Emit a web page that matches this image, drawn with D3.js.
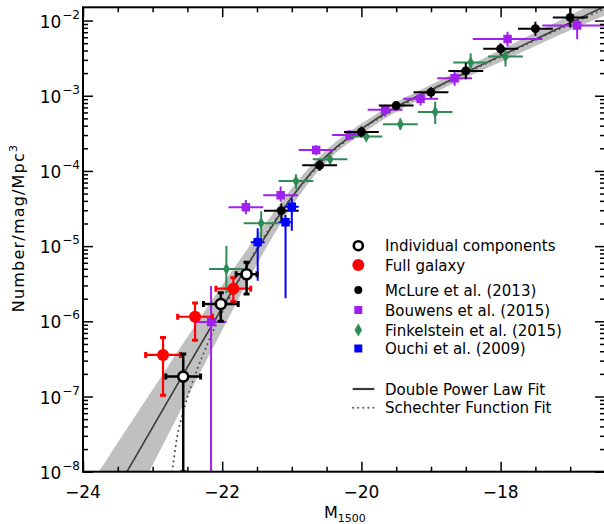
<!DOCTYPE html>
<html>
<head>
<meta charset="utf-8">
<script src="https://cdn.jsdelivr.net/npm/d3@7"></script>
<style>
body { margin: 0; background: #fff; }
svg { display: block; }
text { font-family: "DejaVu Sans", sans-serif; fill: #000; }
</style>
</head>
<body>
<svg id="chart" width="604" height="524"></svg>
<script>
// fit curves, log10(Number/mag/Mpc^3)
const dplM = [-24, -23.5, -23, -22.5, -22, -21.5, -21, -20.5, -20, -19.5, -19, -18.5, -18, -17.5, -17, -16.5];
const dplLog = [-9.01, -8.21, -7.41, -6.61, -5.82, -5.05, -4.35, -3.80, -3.44, -3.15, -2.92, -2.69, -2.47, -2.25, -2.03, -1.81];
const bandHiLog = [-8.33, -7.61, -6.91, -6.21, -5.52, -4.86, -4.23, -3.72, -3.37, -3.085, -2.855, -2.62, -2.39, -2.16, -1.93, -1.69];
const bandLoLog = [-9.70, -8.81, -7.91, -7.01, -6.12, -5.24, -4.47, -3.88, -3.51, -3.215, -2.985, -2.76, -2.55, -2.34, -2.13, -1.93];
const schM = [-22.78, -22.72, -22.65, -22.55, -22.45, -22.3, -22.15, -22.0, -21.75, -21.5, -21.0, -20.5, -20.0, -19.5, -19.0, -18.5, -18.0, -17.5, -17.0, -16.5];
const schLog = [-8.4, -8.0, -7.55, -7.17, -6.87, -6.50, -6.17, -5.88, -5.44, -5.03, -4.35, -3.82, -3.45, -3.17, -2.93, -2.70, -2.48, -2.26, -2.05, -1.84];

// data points: M1500, phi, half-width in M, lower and upper phi
const bouwensM = [-22.16, -21.66, -21.16, -20.65, -20.17, -19.66, -19.15, -18.66, -17.90, -16.90];
const bouwensPhi = [9.8e-7, 3.29e-5, 4.75e-5, 1.9e-4, 3.0e-4, 6.5e-4, 9.1e-4, 1.71e-3, 5.7e-3, 8.6e-3];
const bouwensDM = [0.22, 0.25, 0.25, 0.25, 0.25, 0.25, 0.25, 0.25, 0.5, 0.5];
const bouwensLo = [1e-9, 2.65e-5, 3.9e-5, 1.62e-4, 2.55e-4, 5.3e-4, 7.4e-4, 1.36e-3, 4.5e-3, 5.65e-3];
const bouwensHi = [2.95e-6, 4.1e-5, 6.2e-5, 2.2e-4, 3.5e-4, 7.6e-4, 1.1e-3, 2.15e-3, 7.1e-3, 1.02e-2];

const finkM = [-21.94, -21.44, -20.94, -20.45, -19.93, -19.44, -18.94, -18.43, -17.93];
const finkPhi = [4.98e-6, 2.02e-5, 7.36e-5, 1.43e-4, 2.86e-4, 4.18e-4, 6.1e-4, 2.76e-3, 3.32e-3];
const finkDM = [0.25, 0.25, 0.25, 0.25, 0.23, 0.25, 0.25, 0.25, 0.25];
const finkLo = [2.36e-6, 1.27e-5, 5.7e-5, 1.24e-4, 2.55e-4, 3.5e-4, 4.2e-4, 2.2e-3, 2.45e-3];
const finkHi = [1.0e-5, 2.9e-5, 9.0e-5, 1.63e-4, 3.2e-4, 5.0e-4, 8.3e-4, 3.68e-3, 4.36e-3];

const mclureM = [-21.15, -20.6, -20.0, -19.5, -19.0, -18.5, -18.0, -17.5, -17.0];
const mclurePhi = [2.96e-5, 1.19e-4, 3.3e-4, 7.4e-4, 1.11e-3, 2.14e-3, 4.2e-3, 7.8e-3, 1.10e-2];
const mclureLo = [2.06e-5, 1.0e-4, 2.8e-4, 6.4e-4, 9.4e-4, 1.66e-3, 3.5e-3, 6.3e-3, 8.1e-3];
const mclureHi = [3.7e-5, 1.4e-4, 3.9e-4, 8.5e-4, 1.3e-3, 2.75e-3, 5.0e-3, 9.6e-3, 1.49e-2];

const ouchiM = [-21.49, -21.09, -21.0];
const ouchiPhi = [1.13e-5, 2.08e-5, 3.35e-5];
const ouchiLo = [3.47e-6, 2.03e-6, 1.6e-5];
const ouchiHi = [1.73e-5, 2.6e-5, 4.34e-5];

const fullM = [-22.85, -22.39, -21.84];
const fullPhi = [3.57e-7, 1.15e-6, 2.72e-6];
const fullLo = [1.04e-7, 5.6e-7, 1.83e-6];
const fullHi = [6.1e-7, 1.75e-6, 3.8e-6];

const compM = [-22.56, -22.02, -21.65];
const compPhi = [1.84e-7, 1.70e-6, 4.22e-6];
const compDM = [0.25, 0.25, 0.15];
const compLo = [1e-8, 1.0e-6, 2.3e-6];
const compHi = [3.68e-7, 2.4e-6, 6.1e-6];

const xMajor = [-24, -22, -20, -18];
const yDecades = [-8, -7, -6, -5, -4, -3, -2];

const legendLabels = ["Individual components", "Full galaxy", "McLure et al. (2013)",
  "Bouwens et al. (2015)", "Finkelstein et al. (2015)", "Ouchi et al. (2009)"];
const fitLabels = ["Double Power Law Fit", "Schechter Function Fit"];

const svg = d3.select("#chart");
const pLeft = 83, pRight = 605, pTop = 7.3, pBottom = 471.7;
const x = d3.scaleLinear().domain([-24, -16.5]).range([pLeft, pRight]);
const y = d3.scaleLog().domain([1e-8, 1.5e-2]).range([pBottom, pTop]);
const yl = v => y(Math.pow(10, v));

svg.append("clipPath").attr("id", "plotclip")
  .append("rect").attr("x", pLeft).attr("y", pTop)
  .attr("width", pRight - pLeft).attr("height", pBottom - pTop);
const plot = svg.append("g").attr("clip-path", "url(#plotclip)");

// shaded band + fits
const band = dplM.map((m, i) => ({ m: m, lo: bandLoLog[i], hi: bandHiLog[i] }));
plot.append("path").datum(band)
  .attr("fill", "#c0c0c0")
  .attr("d", d3.area().x(d => x(d.m)).y0(d => yl(d.lo)).y1(d => yl(d.hi)).curve(d3.curveMonotoneX));
plot.append("path").datum(dplM.map((m, i) => [m, dplLog[i]]))
  .attr("fill", "none").attr("stroke", "#3a3a3a").attr("stroke-width", 1.6)
  .attr("d", d3.line().x(d => x(d[0])).y(d => yl(d[1])).curve(d3.curveMonotoneX));
plot.append("path").datum(schM.map((m, i) => [m, schLog[i]]))
  .attr("fill", "none").attr("stroke", "#555").attr("stroke-width", 2)
  .attr("stroke-linecap", "round").attr("stroke-dasharray", "0.1 5")
  .attr("d", d3.line().x(d => x(d[0])).y(d => yl(d[1])).curve(d3.curveMonotoneX));

// error bars and markers
function drawSeries(ms, phis, dms, los, his, style) {
  const g = plot.append("g");
  ms.forEach((m, i) => {
    const cx = x(m), cy = y(phis[i]);
    const x0 = x(m - dms[i]), x1 = x(m + dms[i]);
    const y0 = y(los[i]), y1 = y(his[i]);
    g.append("line").attr("x1", x0).attr("x2", x1).attr("y1", cy).attr("y2", cy)
      .attr("stroke", style.color).attr("stroke-width", style.width);
    g.append("line").attr("x1", cx).attr("x2", cx).attr("y1", y0).attr("y2", y1)
      .attr("stroke", style.color).attr("stroke-width", style.width);
    if (style.cap) {
      const c = style.cap;
      [[x0, cy, 0], [x1, cy, 0], [cx, y0, 1], [cx, y1, 1]].forEach(p => {
        if (p[2] === 0) {
          g.append("line").attr("x1", p[0]).attr("x2", p[0]).attr("y1", p[1] - c).attr("y2", p[1] + c)
            .attr("stroke", style.color).attr("stroke-width", 3);
        } else {
          g.append("line").attr("x1", p[0] - c).attr("x2", p[0] + c).attr("y1", p[1]).attr("y2", p[1])
            .attr("stroke", style.color).attr("stroke-width", 3);
        }
      });
    }
    drawMarker(g, cx, cy, style);
  });
}

function drawMarker(g, cx, cy, style) {
  if (style.shape === "circle") {
    g.append("circle").attr("cx", cx).attr("cy", cy).attr("r", style.r)
      .attr("fill", style.fill).attr("stroke", style.stroke || "none")
      .attr("stroke-width", style.stroke ? 2.6 : 0);
  } else {
    g.append("path").attr("transform", `translate(${cx},${cy})`)
      .attr("d", d3.symbol().type(style.shape).size(style.size)())
      .attr("fill", style.fill);
  }
}

const styles = {
  comp: { color: "#000", width: 2.5, cap: 3, shape: "circle", r: 5, fill: "#fff", stroke: "#000" },
  full: { color: "#ff0000", width: 2.2, cap: 3, shape: "circle", r: 6, fill: "#ff0000" },
  mclure: { color: "#000", width: 2, shape: "circle", r: 4.5, fill: "#000" },
  bouwens: { color: "#a020f0", width: 2, shape: d3.symbolSquare, size: 72, fill: "#a020f0" },
  fink: { color: "#2e8b57", width: 2, shape: d3.symbolDiamond, size: 42, fill: "#2e8b57" },
  ouchi: { color: "#0000ff", width: 2, shape: d3.symbolSquare, size: 72, fill: "#0000ff" }
};

drawSeries(bouwensM, bouwensPhi, bouwensDM, bouwensLo, bouwensHi, styles.bouwens);
drawSeries(finkM, finkPhi, finkDM, finkLo, finkHi, styles.fink);
drawSeries(mclureM, mclurePhi, mclureM.map(() => 0.25), mclureLo, mclureHi, styles.mclure);
drawSeries(ouchiM, ouchiPhi, ouchiM.map(() => 0.1), ouchiLo, ouchiHi, styles.ouchi);
drawSeries(fullM, fullPhi, fullM.map(() => 0.25), fullLo, fullHi, styles.full);
drawSeries(compM, compPhi, compDM, compLo, compHi, styles.comp);

// axes
const xMinor = d3.range(-24, -16.49, 0.5).filter(v => !xMajor.includes(v));
const yMinor = [];
yDecades.forEach(d => { for (let k = 2; k <= 9; k++) { const v = k * Math.pow(10, d); if (v <= 1.5e-2) yMinor.push(v); } });
const yMajor = yDecades.map(d => Math.pow(10, d));

function tickAxis(axisFn, scale, vals, size, tx, ty) {
  const g = svg.append("g").attr("transform", `translate(${tx},${ty})`)
    .call(axisFn(scale).tickValues(vals).tickSizeInner(size).tickSizeOuter(0).tickFormat(""));
  g.select(".domain").remove();
  g.selectAll(".tick line").attr("stroke", "#000").attr("stroke-width", 1.5);
  return g;
}
tickAxis(d3.axisBottom, x, xMajor, -10, 0, pBottom);
tickAxis(d3.axisBottom, x, xMinor, -5, 0, pBottom);
tickAxis(d3.axisTop, x, xMajor, -10, 0, pTop);
tickAxis(d3.axisTop, x, xMinor, -5, 0, pTop);
tickAxis(d3.axisLeft, y, yMajor, -10, pLeft, 0);
tickAxis(d3.axisLeft, y, yMinor, -5, pLeft, 0);
tickAxis(d3.axisRight, y, yMajor, -10, pRight, 0);
tickAxis(d3.axisRight, y, yMinor, -5, pRight, 0);

svg.append("rect").attr("x", pLeft).attr("y", pTop)
  .attr("width", pRight - pLeft).attr("height", pBottom - pTop)
  .attr("fill", "none").attr("stroke", "#000").attr("stroke-width", 2);

// tick labels
svg.append("g").selectAll("text").data(xMajor).join("text")
  .attr("x", d => x(d)).attr("y", 498).attr("text-anchor", "middle")
  .attr("font-size", 17).text(d => "\u2212" + Math.abs(d));

const yLab = svg.append("g").selectAll("text").data(yDecades).join("text")
  .attr("x", 80).attr("y", d => yl(d) + 7).attr("text-anchor", "end").attr("font-size", 17);
yLab.append("tspan").text("10");
yLab.append("tspan").attr("dy", -9).attr("dx", 1).attr("font-size", 12).text(d => "\u2212" + Math.abs(d));

// axis titles
const xt = svg.append("text").attr("x", 324).attr("y", 518).attr("font-size", 16);
xt.append("tspan").text("M");
xt.append("tspan").attr("dy", 4).attr("font-size", 11).text("1500");

const yt = svg.append("text").attr("transform", "translate(24,228) rotate(-90)")
  .attr("text-anchor", "middle").attr("font-size", 16).attr("letter-spacing", 1.2);
yt.append("tspan").text("Number/mag/Mpc");
yt.append("tspan").attr("dy", -7).attr("font-size", 11).text("3");

// legend
const legStyles = [styles.comp, styles.full, styles.mclure, styles.bouwens, styles.fink, styles.ouchi];
const legY = [245.7, 265, 290, 310, 330, 348.5];
const leg = svg.append("g");
legendLabels.forEach((lab, i) => {
  const st = Object.assign({}, legStyles[i]);
  if (st.shape === d3.symbolSquare) st.size = 64;
  if (st.shape === d3.symbolDiamond) st.size = 50;
  if (i === 0) st.r = 4.5;
  if (i === 2) st.r = 4;
  drawMarker(leg, 358.3, legY[i], st);
  leg.append("text").attr("x", 385).attr("y", legY[i] + 5.5).attr("font-size", 15).text(lab);
});
const fitY = [389, 407.7];
leg.append("line").attr("x1", 352.7).attr("x2", 374.3).attr("y1", fitY[0]).attr("y2", fitY[0])
  .attr("stroke", "#3a3a3a").attr("stroke-width", 2.2);
leg.append("line").attr("x1", 353).attr("x2", 375).attr("y1", fitY[1]).attr("y2", fitY[1])
  .attr("stroke", "#555").attr("stroke-width", 2).attr("stroke-linecap", "round").attr("stroke-dasharray", "0.1 5");
fitLabels.forEach((lab, i) => {
  leg.append("text").attr("x", 385).attr("y", fitY[i] + 5.5).attr("font-size", 15).text(lab);
});
</script>
</body>
</html>
